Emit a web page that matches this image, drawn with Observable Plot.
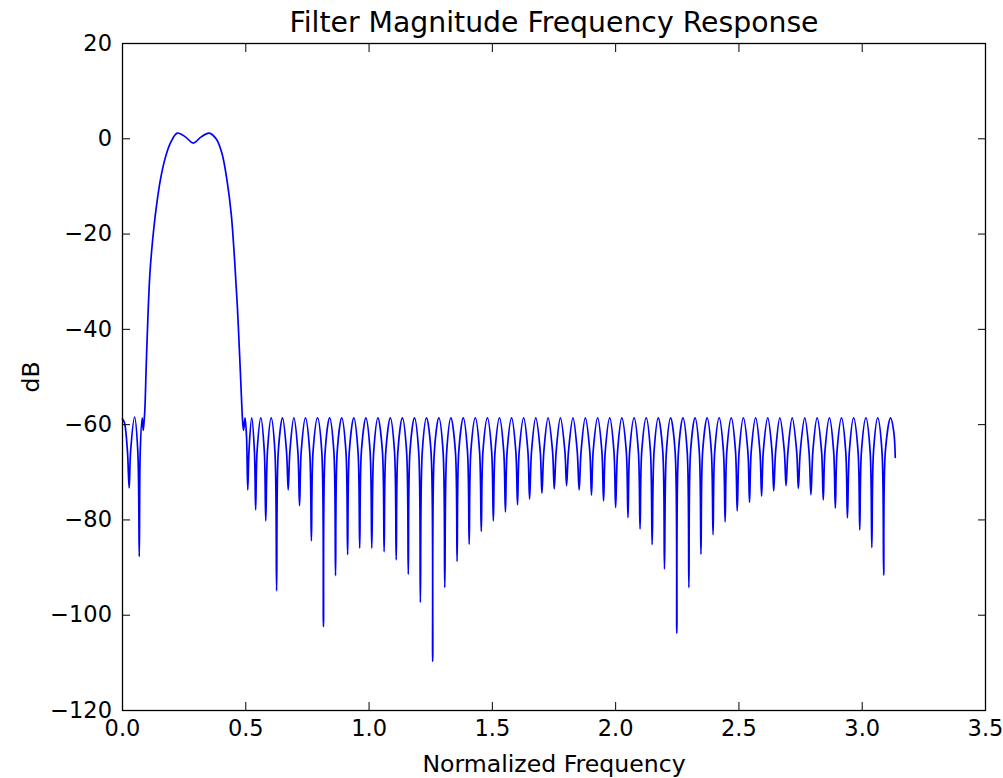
<!DOCTYPE html>
<html>
<head>
<meta charset="utf-8">
<script src="https://cdn.jsdelivr.net/npm/d3@7"></script>
<script src="https://cdn.jsdelivr.net/npm/@observablehq/plot@0.6"></script>
<style>
  html, body { margin: 0; padding: 0; background: #ffffff; }
  #chart { width: 1003px; height: 778px; }
</style>
</head>
<body>
<div id="chart"></div>
<script>
// ---- Text ----
const titleText = "Filter Magnitude Frequency Response";
const xLabelText = "Normalized Frequency";
const yLabelText = "dB";

// ---- Tick values ----
const xTicks = [0, 0.5, 1.0, 1.5, 2.0, 2.5, 3.0, 3.5];
const yTicks = [-120, -100, -80, -60, -40, -20, 0, 20];

// ---- Response (normalized frequency, dB) ----
// Low stopband (0 – 0.09)
const lowFreq = [0.000, 0.008, 0.020, 0.027, 0.033, 0.049, 0.062, 0.068, 0.072, 0.080, 0.084, 0.088];
const lowDb   = [-58.8, -59.6, -65.5, -73.3, -65.5, -58.4, -65.5, -87.7, -65.5, -58.6, -61.2, -59.0];

// Passband and transition bands (0.09 – 0.50)
const passFreq = [0.091, 0.096, 0.103, 0.111, 0.122, 0.137, 0.154, 0.174, 0.195, 0.222, 0.255, 0.287, 0.319,
                  0.351, 0.381, 0.404, 0.424, 0.441, 0.454, 0.466, 0.476, 0.483, 0.487, 0.491, 0.497, 0.503];
const passDb   = [-56.5, -48.0, -37.5, -28.4, -21.4, -14.4, -8.5, -3.9, -0.8, 1.2, 0.4, -0.9, 0.4,
                  1.2, -0.1, -3.2, -8.8, -15.8, -24.9, -35.4, -46.6, -55.0, -59.2, -61.2, -58.6, -62.5];

// High stopband (0.50 – π): per lobe = null, left knee, peak, right knee
const stopFreq = [
  0.508, 0.513, 0.524, 0.535,
  0.540, 0.546, 0.561, 0.575,
  0.581, 0.588, 0.603, 0.618,
  0.625, 0.632, 0.649, 0.665,
  0.672, 0.679, 0.695, 0.711,
  0.718, 0.725, 0.742, 0.759,
  0.766, 0.773, 0.791, 0.808,
  0.815, 0.822, 0.840, 0.857,
  0.864, 0.871, 0.889, 0.906,
  0.913, 0.920, 0.938, 0.955,
  0.962, 0.969, 0.987, 1.004,
  1.011, 1.019, 1.036, 1.054,
  1.061, 1.068, 1.086, 1.103,
  1.110, 1.117, 1.135, 1.152,
  1.159, 1.166, 1.184, 1.201,
  1.208, 1.216, 1.233, 1.251,
  1.258, 1.265, 1.283, 1.300,
  1.307, 1.315, 1.332, 1.350,
  1.357, 1.364, 1.382, 1.399,
  1.406, 1.413, 1.431, 1.448,
  1.455, 1.462, 1.480, 1.497,
  1.504, 1.511, 1.529, 1.546,
  1.553, 1.560, 1.578, 1.595,
  1.602, 1.609, 1.627, 1.644,
  1.651, 1.659, 1.676, 1.694,
  1.701, 1.709, 1.726, 1.744,
  1.751, 1.759, 1.776, 1.794,
  1.801, 1.809, 1.827, 1.844,
  1.852, 1.860, 1.877, 1.895,
  1.902, 1.909, 1.927, 1.944,
  1.951, 1.958, 1.976, 1.993,
  2.000, 2.008, 2.025, 2.043,
  2.050, 2.057, 2.075, 2.092,
  2.099, 2.106, 2.124, 2.141,
  2.148, 2.156, 2.173, 2.191,
  2.198, 2.206, 2.223, 2.241,
  2.248, 2.255, 2.273, 2.290,
  2.297, 2.304, 2.322, 2.339,
  2.346, 2.353, 2.371, 2.388,
  2.395, 2.402, 2.420, 2.437,
  2.444, 2.451, 2.469, 2.486,
  2.493, 2.501, 2.518, 2.536,
  2.543, 2.550, 2.568, 2.585,
  2.592, 2.599, 2.617, 2.634,
  2.641, 2.649, 2.666, 2.684,
  2.691, 2.699, 2.716, 2.734,
  2.741, 2.749, 2.767, 2.784,
  2.792, 2.800, 2.817, 2.835,
  2.842, 2.849, 2.867, 2.884,
  2.891, 2.898, 2.916, 2.933,
  2.940, 2.948, 2.965, 2.983,
  2.990, 2.997, 3.015, 3.032,
  3.039, 3.046, 3.063, 3.080,
  3.087, 3.094, 3.115, 3.128, 3.134
];
const stopDb = [
  -73.7, -65.5, -58.6, -65.5,
  -77.9, -65.5, -58.6, -65.5,
  -80.2, -65.5, -58.6, -65.5,
  -94.9, -65.5, -58.6, -65.5,
  -73.7, -65.5, -58.6, -65.5,
  -77.0, -65.5, -58.6, -65.5,
  -84.4, -65.5, -58.6, -65.5,
  -102.4, -65.5, -58.6, -65.5,
  -91.7, -65.5, -58.6, -65.5,
  -87.3, -65.5, -58.6, -65.5,
  -85.9, -65.5, -58.6, -65.5,
  -85.9, -65.5, -58.6, -65.5,
  -86.7, -65.5, -58.6, -65.5,
  -88.4, -65.5, -58.6, -65.5,
  -91.4, -65.5, -58.6, -65.5,
  -97.3, -65.5, -58.6, -65.5,
  -109.7, -65.5, -58.6, -65.5,
  -94.2, -65.5, -58.6, -65.5,
  -88.7, -65.5, -58.6, -65.5,
  -85.1, -65.5, -58.6, -65.5,
  -82.4, -65.5, -58.6, -65.5,
  -80.2, -65.5, -58.6, -65.5,
  -78.3, -65.5, -58.6, -65.5,
  -76.8, -65.5, -58.6, -65.5,
  -75.6, -65.5, -58.6, -65.5,
  -74.4, -65.5, -58.6, -65.5,
  -73.5, -65.5, -58.6, -65.5,
  -72.8, -65.5, -58.6, -65.5,
  -73.7, -65.5, -58.6, -65.5,
  -74.8, -65.5, -58.6, -65.5,
  -76.0, -65.5, -58.6, -65.5,
  -77.4, -65.5, -58.6, -65.5,
  -79.5, -65.5, -58.6, -65.5,
  -81.9, -65.5, -58.6, -65.5,
  -85.2, -65.5, -58.6, -65.5,
  -90.3, -65.5, -58.6, -65.5,
  -103.8, -65.5, -58.6, -65.5,
  -94.2, -65.5, -58.6, -65.5,
  -87.2, -65.5, -58.6, -65.5,
  -83.1, -65.5, -58.6, -65.5,
  -80.4, -65.5, -58.6, -65.5,
  -78.1, -65.5, -58.6, -65.5,
  -76.3, -65.5, -58.6, -65.5,
  -75.0, -65.5, -58.6, -65.5,
  -73.9, -65.5, -58.6, -65.5,
  -72.8, -65.5, -58.6, -65.5,
  -73.4, -65.5, -58.6, -65.5,
  -74.7, -65.5, -58.6, -65.5,
  -75.8, -65.5, -58.6, -65.5,
  -77.5, -65.5, -58.6, -65.5,
  -79.6, -65.5, -58.6, -65.5,
  -82.1, -65.5, -58.6, -65.5,
  -85.8, -65.5, -58.6, -65.5,
  -91.6, -65.5, -58.6, -61.5, -66.9
];

// ---- Build table ----
const freq = [...lowFreq, ...passFreq, ...stopFreq];
const dB = [...lowDb, ...passDb, ...stopDb];
const response = freq.map((f, i) => ({f, db: dB[i]}));

const FONT = "DejaVu Sans";
const fmtX = d3.format(".1f");
const blank = () => "";

const chart = Plot.plot({
  width: 1003,
  height: 778,
  marginLeft: 122,
  marginRight: 18,
  marginTop: 43,
  marginBottom: 68,
  style: {fontFamily: FONT, fontSize: "22.5px", color: "#000", background: "#fff", overflow: "visible"},
  x: {domain: [0, 3.5], label: null},
  y: {domain: [-120, 20], label: null},
  marks: [
    Plot.line(response, {x: "f", y: "db", stroke: "#0000ff", strokeWidth: 1.7,
      curve: "catmull-rom", strokeLinejoin: "round", strokeLinecap: "round"}),
    Plot.frame({stroke: "#000", strokeWidth: 1.3}),
    Plot.axisX({anchor: "bottom", ticks: xTicks, tickFormat: fmtX, tickSize: -8, tickPadding: 18, label: null, fontSize: 22.5}),
    Plot.axisX({anchor: "top", ticks: xTicks, tickFormat: blank, tickSize: -8, label: null}),
    Plot.axisY({anchor: "left", ticks: yTicks, tickSize: -8, tickPadding: 18.5, label: null, fontSize: 22.5}),
    Plot.axisY({anchor: "right", ticks: yTicks, tickFormat: blank, tickSize: -8, label: null}),
    Plot.text([titleText], {text: d => d, frameAnchor: "top", lineAnchor: "middle", dy: -21, fontSize: 28.3, fill: "#000"}),
    Plot.text([xLabelText], {text: d => d, frameAnchor: "bottom", lineAnchor: "middle", dy: 54, fontSize: 23.6, fill: "#000"}),
    Plot.text([yLabelText], {text: d => d, frameAnchor: "left", textAnchor: "middle", lineAnchor: "middle", dx: -91, rotate: -90, fontSize: 23.6, fill: "#000"})
  ]
});

document.getElementById("chart").appendChild(chart);
</script>
</body>
</html>
